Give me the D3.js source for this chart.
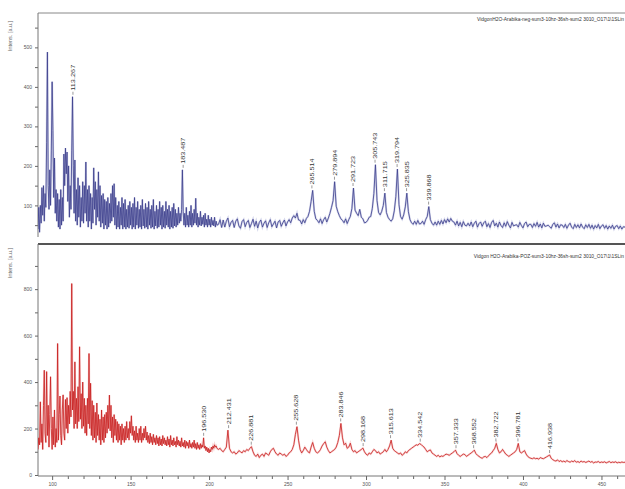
<!DOCTYPE html>
<html>
<head>
<meta charset="utf-8">
<script src="https://cdn.jsdelivr.net/npm/d3@7"></script>
<style>
  html, body { margin: 0; padding: 0; background: #fff; }
  svg text { font-family: "Liberation Sans", Arial, sans-serif; }
</style>
</head>
<body>
<div id="chart"></div>
<script>
// ---- data ----
// spectra: dense part 91..205 m/z in 0.5 steps, tail 206..465 in 1 m/z steps
const negDenseStart = 91, negDenseStep = 0.5;
const negDense = [
  40,95,32,100,55,145,75,150,60,130,
  95,260,488,150,90,190,100,240,413,290,
  120,220,80,140,60,130,45,115,40,140,
  50,120,60,230,150,245,180,235,110,200,
  70,150,90,240,375,200,80,215,60,140,
  50,170,70,150,45,120,60,160,55,150,
  80,210,60,140,45,150,60,130,40,120,
  55,195,90,160,50,140,70,185,60,150,
  45,125,55,130,40,115,50,110,40,120,
  45,105,55,130,60,150,70,155,50,120,
  40,100,45,110,40,95,50,120,40,105,
  45,115,40,90,45,100,42,110,50,95,
  40,105,45,120,40,95,50,110,42,90,
  45,100,40,115,48,90,42,105,45,95,
  40,110,50,90,42,100,45,115,40,85,
  48,100,42,90,45,110,50,95,40,100,
  45,85,42,110,50,90,45,100,40,85,
  45,95,42,105,48,90,45,80,50,95,
  55,80,60,90,190,85,50,80,45,95,
  50,75,45,85,50,100,45,80,50,90,
  55,118,50,80,45,70,50,85,48,70,
  52,75,45,80,50,65,45,75,50,65,
  45,70,50,62,48,70,45,60,50
];
const negTailStart = 206, negTailStep = 1;
const negTail = [
  52,64,44,63,45,60,68,46,57,62,
  44,60,66,48,42,59,64,46,57,62,
  44,54,65,47,60,43,57,63,45,55,
  61,44,56,64,46,53,60,43,58,62,
  47,56,63,48,58,64,56,68,74,68,
  80,63,62,53,64,56,67,72,85,110,
  138,85,66,62,56,66,54,64,70,58,
  68,80,95,112,160,98,84,74,66,62,
  56,66,54,64,72,92,144,88,80,74,
  90,70,66,56,57,62,70,72,92,130,
  203,112,82,76,85,100,131,82,70,64,
  60,66,86,122,192,102,72,65,76,96,
  131,84,64,56,52,60,52,62,53,54,
  60,52,64,72,97,64,55,50,58,50,
  60,52,62,53,64,56,66,58,67,60,
  58,50,60,48,57,46,59,50,48,55,
  48,58,46,55,60,45,54,58,47,56,
  60,46,54,44,57,62,48,55,45,58,
  49,44,56,47,59,50,43,57,48,50,
  51,45,57,49,43,54,58,46,52,52,
  44,54,47,57,45,53,43,55,47,48,
  50,46,42,52,56,45,53,43,51,50,
  44,52,42,50,55,45,41,52,44,51,
  43,53,45,41,51,44,52,42,50,40,
  49,43,52,41,48,51,42,49,40,48,
  42,50,40,47,49,41,48,40,46,45
];

const pozDenseStart = 91, pozDenseStep = 0.5;
const pozDense = [
  110,160,130,315,140,220,110,300,451,180,
  140,445,170,300,120,260,423,200,110,250,
  130,280,120,200,140,566,150,260,340,170,
  130,280,345,180,150,325,200,333,180,300,
  220,360,250,824,280,360,200,487,220,330,
  200,380,230,552,240,350,200,400,210,330,
  180,300,170,330,220,523,200,395,170,320,
  150,300,160,270,140,310,170,260,150,240,
  130,280,150,250,140,260,160,270,180,300,
  200,344,190,300,160,250,140,260,170,240,
  150,230,140,220,150,210,130,220,150,200,
  140,210,150,230,160,200,150,230,180,255,
  170,210,150,190,140,210,150,180,140,200,
  150,210,140,180,150,200,160,210,150,185,
  140,170,135,180,140,165,130,175,140,160,
  130,170,135,160,125,165,130,155,125,170,
  135,160,130,150,125,165,130,155,120,170,
  130,150,125,160,130,145,120,165,130,150,
  125,145,120,160,125,140,120,150,115,145,
  125,140,115,150,120,135,115,140,120,150,
  115,135,110,140,115,130,110,135,115,130,
  120,160,115,125,105,120,100,115,95,110,
  100,120,110,125,115,130,120,125,115
];
const pozTailStart = 206, pozTailStep = 1;
const pozTail = [
  110,115,105,100,110,120,193,115,100,95,
  100,90,95,105,100,95,105,100,110,105,
  115,122,100,85,80,90,75,85,90,80,
  95,90,85,100,110,115,100,90,85,95,
  90,85,90,80,85,95,100,110,130,175,
  208,150,110,95,105,120,110,100,95,120,
  140,115,100,95,100,110,125,135,143,120,
  105,95,100,105,110,120,140,170,222,160,
  130,137,115,120,137,110,100,105,95,100,
  105,110,116,100,90,85,95,90,100,110,
  105,95,100,90,95,100,110,100,110,125,
  150,115,105,100,95,90,95,85,90,100,
  95,105,110,115,120,125,130,128,135,132,
  125,120,110,100,105,108,95,90,85,80,
  85,78,82,80,85,90,88,85,90,95,
  100,107,92,85,80,85,90,88,80,85,
  90,95,100,107,92,85,80,75,72,78,
  80,75,82,90,95,105,115,136,110,95,
  100,110,100,90,85,80,85,90,95,100,
  110,136,100,95,100,105,90,80,75,72,
  70,74,70,72,68,75,72,70,74,78,
  82,86,72,66,62,60,65,58,62,57,
  60,56,62,58,55,60,57,62,55,58,
  54,60,56,58,54,57,60,55,58,52,
  56,55,58,53,56,54,57,52,55,58,
  53,56,54,57,52,55,53,56,54,55
];

// peak labels
const negPeakLabels = ["113.267","183.487","265.514","279.894","291.723","305.743","311.715","319.794","325.835","339.868"];
const negPeakMz     = [113.267, 183.487, 265.514, 279.894, 291.723, 305.743, 311.715, 319.794, 325.835, 339.868];
const negPeakInt    = [375, 190, 138, 160, 144, 203, 131, 192, 131, 97];

const pozPeakLabels = ["196.530","212.431","226.881","255.628","283.846","298.168","315.613","334.542","357.333","368.552","382.722","396.781","416.938"];
const pozPeakMz     = [196.530, 212.431, 226.881, 255.628, 283.846, 298.168, 315.613, 334.542, 357.333, 368.552, 382.722, 396.781, 416.938];
const pozPeakInt    = [160, 193, 122, 208, 222, 116, 150, 135, 107, 107, 136, 136, 86];

// ticks
const mzTicks = [100, 150, 200, 250, 300, 350, 400, 450];
const mzMinorTicks = [110,120,130,140,160,170,180,190,210,220,230,240,260,270,280,290,310,320,330,340,360,370,380,390,410,420,430,440,460];
const negTicks = [100, 200, 300, 400, 500];
const negMinorTicks = [50, 150, 250, 350, 450, 550];
const pozTicks = [0, 200, 400, 600, 800];
const pozMinorTicks = [100, 300, 500, 700, 900];

const negTitle = "VidgonH2O-Arabika-neg-sum3-10hz-36sh-sum2 3010_O17\\1\\1SLin";
const pozTitle = "Vidgon H2O-Arabika-POZ-sum3-10hz-36sh-sum2 3010_O17\\1\\1SLin";
const yTitle = "Intens. [a.u.]";

// ---- layout ----
const W = 625, H = 489;
const left = 38, right = 625;
const negTop = 13, negBottom = 237;
const pozTop = 245, pozBottom = 476;

function toPoints(start, step, values) {
  return values.map((v, i) => ({ mz: start + i * step, v: v }));
}
const negData = toPoints(negDenseStart, negDenseStep, negDense)
  .concat(toPoints(negTailStart, negTailStep, negTail));
const pozData = toPoints(pozDenseStart, pozDenseStep, pozDense)
  .concat(toPoints(pozTailStart, pozTailStep, pozTail));

const svg = d3.select("#chart").append("svg")
  .attr("width", W).attr("height", H)
  .attr("viewBox", `0 0 ${W} ${H}`);

const x = d3.scaleLinear().domain([91, 465]).range([left, right]);
const yNeg = d3.scaleLinear().domain([20, 587]).range([negBottom, negTop]);
const yPoz = d3.scaleLinear().domain([0, 990]).range([pozBottom - 1, pozTop]);

const defs = svg.append("defs");
defs.append("clipPath").attr("id", "clip-neg").append("rect")
  .attr("x", left).attr("y", negTop).attr("width", right - left).attr("height", negBottom - negTop);
defs.append("clipPath").attr("id", "clip-poz").append("rect")
  .attr("x", left).attr("y", pozTop).attr("width", right - left).attr("height", pozBottom - pozTop);

function styleAxis(g) {
  g.select(".domain").attr("stroke", "#777").attr("stroke-width", 1);
  g.selectAll(".tick line").attr("stroke", "#666");
  g.selectAll(".tick text").attr("fill", "#555").style("font-size", "5px");
}

function drawPanel(opts) {
  const { y, data, ticks, minor, clip, color, halo, title, titleY, labels, labelMz, labelInt, top, bottom, yTitleY, topLine } = opts;

  // top frame line
  svg.append("line")
    .attr("x1", left).attr("x2", right)
    .attr("y1", top).attr("y2", top)
    .attr("stroke", topLine.color).attr("stroke-width", topLine.width);

  svg.append("g")
    .attr("transform", `translate(${left},0)`)
    .call(d3.axisLeft(y).tickValues(minor).tickSize(3).tickFormat(""))
    .call(g => g.select(".domain").remove())
    .call(styleAxis);

  svg.append("g")
    .attr("transform", `translate(${left},0)`)
    .call(d3.axisLeft(y).tickValues(ticks).tickSize(3).tickPadding(3).tickFormat(d3.format("d")))
    .call(styleAxis)
    .call(g => g.select(".domain").attr("d", `M0,${top}V${bottom}`));

  svg.append("text")
    .attr("transform", `translate(12,${yTitleY}) rotate(-90)`)
    .attr("text-anchor", "middle")
    .attr("fill", "#666")
    .style("font-size", "5.5px")
    .text(yTitle);

  // run title, kept inside the right edge
  svg.append("text")
    .attr("x", right - 1).attr("y", titleY)
    .attr("text-anchor", "end")
    .attr("fill", "#333")
    .style("font-size", "4.9px")
    .text(title);

  const line = d3.line().x(d => x(d.mz)).y(d => y(d.v));
  const g = svg.append("g").attr("clip-path", `url(#${clip})`);
  g.append("path").datum(data)
    .attr("d", line).attr("fill", "none")
    .attr("stroke", halo).attr("stroke-width", 2).attr("opacity", 0.45);
  g.append("path").datum(data)
    .attr("d", line).attr("fill", "none")
    .attr("stroke", color).attr("stroke-width", 0.8)
    .attr("stroke-linejoin", "round");

  const lab = svg.append("g").selectAll("g")
    .data(labels.map((t, i) => ({ t: t, mz: labelMz[i], v: labelInt[i] })))
    .join("g")
    .attr("transform", d => `translate(${x(d.mz)},${y(d.v) - 2})`);
  lab.append("line")
    .attr("x1", 0).attr("x2", 0).attr("y1", 0).attr("y2", -3)
    .attr("stroke", "#555").attr("stroke-width", 0.6);
  lab.append("text")
    .attr("transform", "rotate(-90)")
    .attr("x", 4).attr("dy", "0.35em")
    .attr("fill", "#333")
    .style("font-size", "6px")
    .attr("textLength", 26)
    .attr("lengthAdjust", "spacingAndGlyphs")
    .text(d => d.t);
}

drawPanel({
  y: yNeg, data: negData, ticks: negTicks, minor: negMinorTicks, clip: "clip-neg",
  color: "#3b3d8c", halo: "#9c9fd0", title: negTitle, titleY: 21,
  labels: negPeakLabels, labelMz: negPeakMz, labelInt: negPeakInt,
  top: negTop, bottom: negBottom, yTitleY: 36, topLine: { color: "#888", width: 1 }
});

drawPanel({
  y: yPoz, data: pozData, ticks: pozTicks, minor: pozMinorTicks, clip: "clip-poz",
  color: "#c81e1e", halo: "#f0a0a0", title: pozTitle, titleY: 258,
  labels: pozPeakLabels, labelMz: pozPeakMz, labelInt: pozPeakInt,
  top: pozTop - 1, bottom: pozBottom, yTitleY: 263, topLine: { color: "#555", width: 2 }
});

// m/z axis at the bottom
svg.append("g")
  .attr("transform", `translate(0,${pozBottom})`)
  .call(d3.axisBottom(x).tickValues(mzMinorTicks).tickSize(3).tickFormat(""))
  .call(g => g.select(".domain").remove())
  .call(styleAxis);

svg.append("g")
  .attr("transform", `translate(0,${pozBottom})`)
  .call(d3.axisBottom(x).tickValues(mzTicks).tickSize(4).tickPadding(2).tickFormat(d3.format("d")))
  .call(styleAxis)
  .call(g => g.select(".domain").attr("d", `M${left},0H${right}`));
</script>
</body>
</html>
